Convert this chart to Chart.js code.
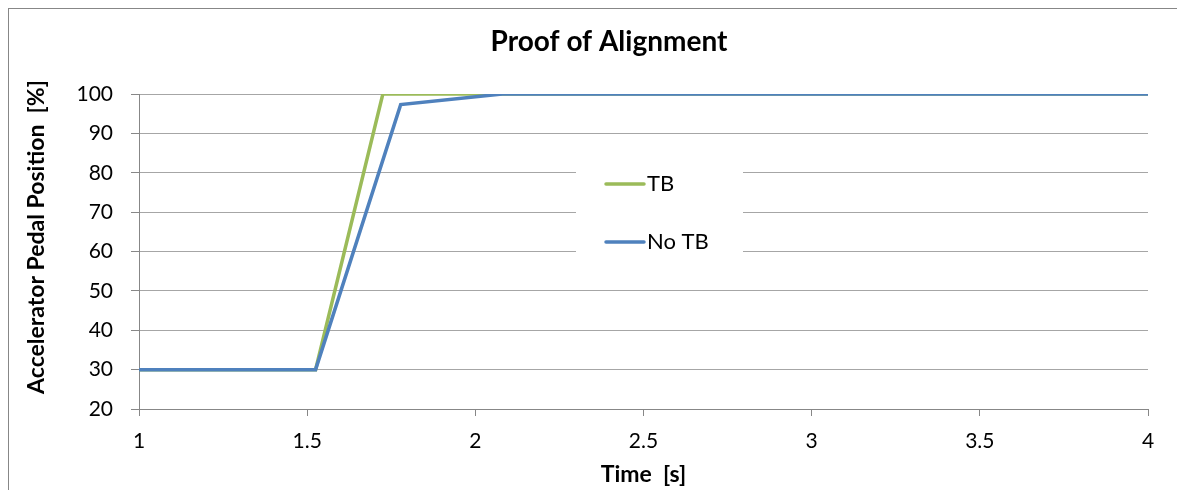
<!DOCTYPE html>
<html>
<head>
<meta charset="utf-8">
<title>Proof of Alignment</title>
<script src="https://cdn.jsdelivr.net/npm/chart.js@4.4.1/dist/chart.umd.min.js"></script>
<style>
  html, body { margin: 0; padding: 0; background: #fff; overflow: hidden; }
  #frame {
    position: absolute; left: 8px; top: 8px; width: 1300px; height: 600px;
    border-top: 1px solid #878787; border-left: 1px solid #878787;
  }
  #wrap { position: absolute; left: 0; top: 0; width: 1177px; height: 490px; }
</style>
</head>
<body>
<div id="frame"></div>
<div id="wrap"><canvas id="line-chart"></canvas></div>
<script>
// time axis [s]
var timeTB = [1, 1.525, 1.725, 4];
var timeNoTB = [1, 1.525, 1.778, 2.08, 4];
// accelerator pedal position [%]
var valuesTB = [30, 30, 100, 100];
var valuesNoTB = [30, 30, 97.3, 100, 100];
var xTicks = [1, 1.5, 2, 2.5, 3, 3.5, 4];
var yTicks = [20, 30, 40, 50, 60, 70, 80, 90, 100];

var seriesNames = ["TB", "No TB"];
var seriesColors = ["#9bbb59", "#4f81bd"];

function toPoints(xs, ys) {
  return xs.map(function (x, i) { return { x: x, y: ys[i] }; });
}

// legend sits inside the plot, like in the original sheet
var innerLegend = {
  id: "innerLegend",
  beforeDatasetsDraw: function (chart) {
    var ctx = chart.ctx;
    var area = chart.chartArea;
    var left = area.left + 437;
    var top = area.top + 56;
    ctx.save();
    ctx.fillStyle = "#fff";
    ctx.fillRect(left, top, 167, 120);
    ctx.font = "22px Lato";
    ctx.textBaseline = "middle";
    ctx.lineWidth = 3.5;
    ctx.lineCap = "round";
    seriesNames.forEach(function (name, i) {
      var y = top + 34 + i * 58;
      ctx.strokeStyle = seriesColors[i];
      ctx.beginPath();
      ctx.moveTo(left + 30, y);
      ctx.lineTo(left + 68, y);
      ctx.stroke();
      ctx.fillStyle = "#000";
      ctx.fillText(name, left + 71, y);
    });
    ctx.restore();
  },
  afterDraw: function (chart) {
    var ctx = chart.ctx;
    ctx.save();
    ctx.translate(37, 237);
    ctx.rotate(-Math.PI / 2);
    ctx.font = "bold 23px Lato";
    ctx.fillStyle = "#000";
    ctx.textAlign = "center";
    ctx.textBaseline = "middle";
    ctx.fillText("Accelerator Pedal Position  [%]", 0, 0);
    ctx.restore();
  }
};

var ctx = document.getElementById("line-chart");
var myChart = new Chart(ctx, {
  type: "line",
  data: {
    datasets: [
      {
        label: seriesNames[0],
        data: toPoints(timeTB, valuesTB),
        borderColor: seriesColors[0],
        borderWidth: 3.5,
        pointRadius: 0,
        tension: 0,
        order: 1,
      },
      {
        label: seriesNames[1],
        data: toPoints(timeNoTB, valuesNoTB),
        borderColor: seriesColors[1],
        borderWidth: 3.5,
        pointRadius: 0,
        tension: 0,
        order: 0,
      },
    ],
  },
  options: {
    responsive: true,
    maintainAspectRatio: false,
    animation: false,
    events: [],
    layout: { padding: { left: 70, right: 29, top: 0, bottom: 0 } },
    plugins: {
      legend: { display: false },
      tooltip: { enabled: false },
      title: {
        display: true,
        text: "Proof of Alignment",
        color: "#000",
        font: { family: "Lato", size: 28, weight: "bold", lineHeight: 1.2 },
        padding: { top: 25.2, bottom: 35.2 },
      },
    },
    scales: {
      x: {
        type: "linear",
        min: 1,
        max: 4,
        afterBuildTicks: function (scale) {
          scale.ticks = xTicks.map(function (v) { return { value: v }; });
        },
        afterFit: function (scale) { scale.height = 81; },
        grid: {
          drawOnChartArea: false,
          drawTicks: true,
          tickLength: 7,
          color: "#878787",
        },
        border: { display: true, color: "#878787", width: 1 },
        ticks: {
          color: "#000",
          padding: 13,
          maxRotation: 0,
          font: { family: "Lato", size: 21 },
          callback: function (value) { return String(value); },
        },
        title: {
          display: true,
          text: "Time  [s]",
          color: "#000",
          font: { family: "Lato", size: 23, weight: "bold", lineHeight: 1.2 },
          padding: { top: 0, bottom: 2 },
        },
      },
      y: {
        type: "linear",
        min: 20,
        max: 100,
        afterBuildTicks: function (scale) {
          scale.ticks = yTicks.map(function (v) { return { value: v }; });
        },
        afterFit: function (scale) { scale.width = 69; },
        grid: {
          color: "#a6a6a6",
          tickLength: 8,
          tickColor: "#878787",
        },
        border: { display: true, color: "#878787", width: 1 },
        ticks: {
          color: "#000",
          padding: 18,
          font: { family: "Lato", size: 21 },
          callback: function (value) { return String(value); },
        },
      },
    },
  },
  plugins: [innerLegend],
});
</script>
</body>
</html>
